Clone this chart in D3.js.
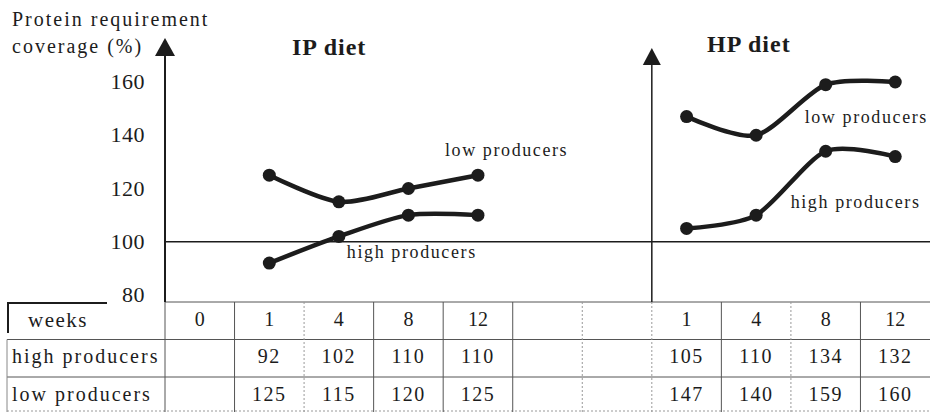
<!DOCTYPE html>
<html>
<head>
<meta charset="utf-8">
<script src="https://cdn.jsdelivr.net/npm/d3@7"></script>
<style>
  html, body { margin: 0; padding: 0; background: #fff; }
  svg { display: block; }
  svg text { font-family: 'Liberation Serif', 'DejaVu Serif', 'Times New Roman', Times, serif; }
</style>
</head>
<body>
<div id="chart"></div>
<script>
// table header (weeks) for both diets
var ipWeeks = ["0", "1", "4", "8", "12"];
var hpWeeks = ["1", "4", "8", "12"];
// protein requirement coverage (%), weeks 1, 4, 8, 12
var ipHigh = [92, 102, 110, 110];
var ipLow = [125, 115, 120, 125];
var hpHigh = [105, 110, 134, 132];
var hpLow = [147, 140, 159, 160];
var yTicks = [80, 100, 120, 140, 160];
var rowLabels = ["high producers", "low producers"];

var width = 930, height = 412;
var tableTop = 302, rowH = 37.5;
var ink = "#1c1c1c";
var serif = "Liberation Serif, DejaVu Serif, serif";

var svg = d3.select("#chart").append("svg")
    .attr("width", width)
    .attr("height", height)
    .attr("font-family", serif);

// columns of the table: IP weeks, two empty cells, HP weeks
var colKeys = ipWeeks.map(function(w){ return "ip-" + w; })
    .concat(["gap-1", "gap-2"])
    .concat(hpWeeks.map(function(w){ return "hp-" + w; }));
var colText = ipWeeks.concat(["", ""]).concat(hpWeeks);

var x = d3.scaleBand().domain(colKeys).range([165, width]);
var y = d3.scaleLinear().domain([80, 160]).range([295, 82]);
var cx = function(k){ return x(k) + x.bandwidth() / 2; };

var ipAxisX = x("ip-0");
var hpAxisX = x("hp-1");

// ---- table ----
var grid = svg.append("g").attr("stroke", "#555").attr("stroke-width", 1).attr("fill", "none");
var rowYs = [tableTop, tableTop + rowH, tableTop + 2 * rowH];
grid.append("line").attr("x1", ipAxisX).attr("x2", width).attr("y1", rowYs[0]).attr("y2", rowYs[0]);
grid.append("line").attr("x1", 7).attr("x2", width).attr("y1", rowYs[1]).attr("y2", rowYs[1]);
grid.append("line").attr("x1", 7).attr("x2", width).attr("y1", rowYs[2]).attr("y2", rowYs[2]);
grid.append("line").attr("x1", 7).attr("x2", width).attr("y1", height - 1).attr("y2", height - 1)
    .attr("stroke-dasharray", "2,2").attr("stroke", "#999");
grid.append("line").attr("x1", 7).attr("x2", 7).attr("y1", rowYs[1]).attr("y2", height)
    .attr("stroke", "#888");

// column borders, a few of them dotted like in the print
var dotted = { 2: true, 6: true, 7: true, 9: true };
colKeys.forEach(function(k, i){
    var bx = x(k);
    grid.append("line")
        .attr("x1", bx).attr("x2", bx)
        .attr("y1", tableTop).attr("y2", height)
        .attr("stroke", dotted[i] ? "#999" : "#555")
        .attr("stroke-dasharray", dotted[i] ? "2,2" : null);
});

// "weeks" corner bracket
svg.append("path")
    .attr("d", "M8,333 V303 H107")
    .attr("fill", "none").attr("stroke", ink).attr("stroke-width", 2);

svg.append("text")
    .attr("x", 28).attr("y", tableTop + rowH / 2 + 6)
    .attr("font-size", 21).attr("letter-spacing", 1.5).attr("fill", ink)
    .text("weeks");

svg.selectAll(".head").data(colText).enter().append("text")
    .attr("class", "head")
    .attr("x", function(d, i){ return cx(colKeys[i]); })
    .attr("y", tableTop + rowH / 2 + 5)
    .attr("text-anchor", "middle")
    .attr("font-size", 20).attr("fill", ink)
    .text(function(d){ return d; });

rowLabels.forEach(function(lbl, r){
    svg.append("text")
        .attr("x", 12).attr("y", rowYs[r + 1] + rowH / 2 + 5)
        .attr("font-size", 20).attr("letter-spacing", 2).attr("fill", ink)
        .text(lbl);
});

function tableRow(values, prefix, r){
    var weeks = prefix === "ip" ? ipWeeks.slice(1) : hpWeeks;
    values.forEach(function(v, i){
        svg.append("text")
            .attr("x", cx(prefix + "-" + weeks[i]))
            .attr("y", rowYs[r + 1] + rowH / 2 + 5)
            .attr("text-anchor", "middle")
            .attr("font-size", 20).attr("letter-spacing", 1.5).attr("fill", ink)
            .text(v);
    });
}
tableRow(ipHigh, "ip", 0);
tableRow(ipLow, "ip", 1);
tableRow(hpHigh, "hp", 0);
tableRow(hpLow, "hp", 1);

// ---- axes ----
svg.append("line")
    .attr("x1", ipAxisX).attr("x2", ipAxisX).attr("y1", 50).attr("y2", tableTop)
    .attr("stroke", ink).attr("stroke-width", 2);
svg.append("path")
    .attr("d", "M" + ipAxisX + ",38 L" + (ipAxisX + 10) + ",56 L" + (ipAxisX - 10) + ",56 Z")
    .attr("fill", ink);

svg.append("line")
    .attr("x1", hpAxisX).attr("x2", hpAxisX).attr("y1", 60).attr("y2", tableTop)
    .attr("stroke", ink).attr("stroke-width", 1.5);
svg.append("path")
    .attr("d", "M" + hpAxisX + ",48 L" + (hpAxisX + 9) + ",65 L" + (hpAxisX - 9) + ",65 Z")
    .attr("fill", ink);

// 100% reference line
svg.append("line")
    .attr("x1", ipAxisX).attr("x2", width)
    .attr("y1", y(100)).attr("y2", y(100))
    .attr("stroke", ink).attr("stroke-width", 1.5);

svg.selectAll(".ytick").data(yTicks).enter().append("text")
    .attr("class", "ytick")
    .attr("x", 145).attr("y", function(d){ return y(d) + 7; })
    .attr("text-anchor", "end")
    .attr("font-size", 22).attr("letter-spacing", 0.5).attr("fill", ink)
    .text(function(d){ return d; });

svg.append("text").attr("x", 12).attr("y", 26)
    .attr("font-size", 20).attr("letter-spacing", 2).attr("fill", ink)
    .text("Protein requirement");
svg.append("text").attr("x", 12).attr("y", 53)
    .attr("font-size", 20).attr("letter-spacing", 2).attr("fill", ink)
    .text("coverage (%)");

svg.append("text").attr("x", 292).attr("y", 55)
    .attr("font-size", 24).attr("font-weight", "bold").attr("letter-spacing", 1).attr("fill", ink)
    .text("IP diet");
svg.append("text").attr("x", 707).attr("y", 52)
    .attr("font-size", 24).attr("font-weight", "bold").attr("letter-spacing", 1).attr("fill", ink)
    .text("HP diet");

// ---- series ----
var line = d3.line()
    .x(function(d){ return cx(d.k); })
    .y(function(d){ return y(d.v); })
    .curve(d3.curveCardinal.tension(0.2));

function series(values, prefix){
    var weeks = prefix === "ip" ? ipWeeks.slice(1) : hpWeeks;
    var pts = values.map(function(v, i){ return { k: prefix + "-" + weeks[i], v: v }; });
    svg.append("path").datum(pts)
        .attr("d", line)
        .attr("fill", "none").attr("stroke", ink).attr("stroke-width", 4.5)
        .attr("stroke-linejoin", "round");
    svg.selectAll(null).data(pts).enter().append("circle")
        .attr("cx", function(d){ return cx(d.k); })
        .attr("cy", function(d){ return y(d.v); })
        .attr("r", 6.5)
        .attr("fill", ink);
}
series(ipHigh, "ip");
series(ipLow, "ip");
series(hpHigh, "hp");
series(hpLow, "hp");

// series labels
function label(txt, k, dx, v){
    svg.append("text")
        .attr("x", cx(k) + dx).attr("y", y(v) + 6)
        .attr("font-size", 18).attr("letter-spacing", 1.6).attr("fill", ink)
        .text(txt);
}
label("low producers", "ip-12", -33, 134.5);
label("high producers", "ip-4", 8, 96);
label("low producers", "hp-8", -21, 147);
label("high producers", "hp-8", -35, 115);
</script>
</body>
</html>
